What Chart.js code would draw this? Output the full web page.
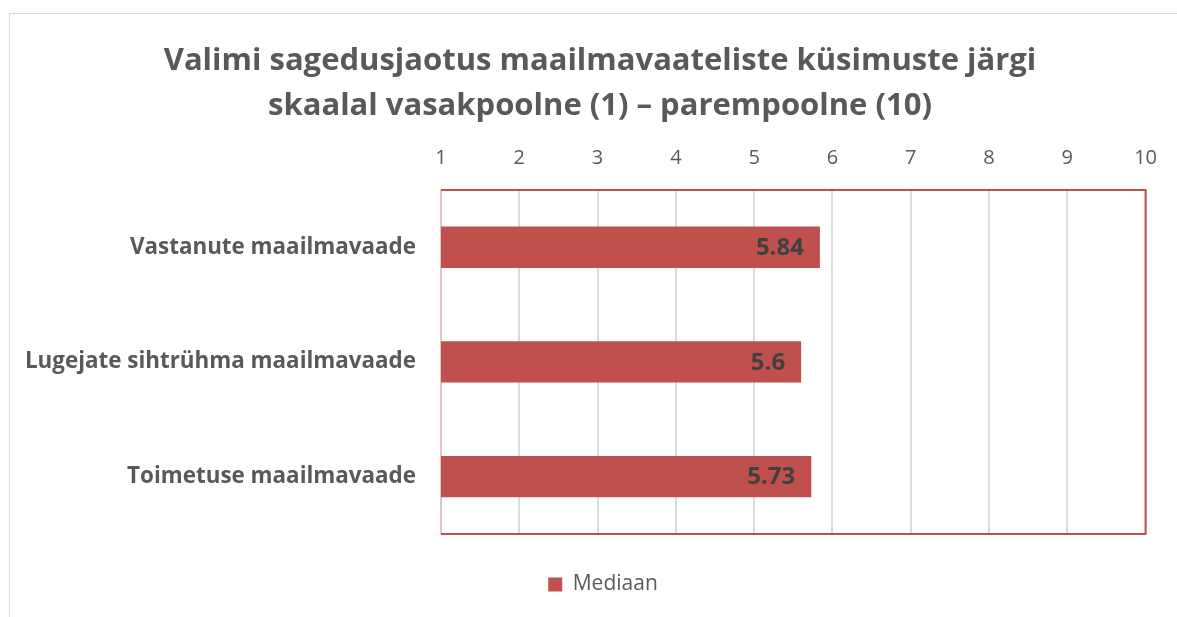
<!DOCTYPE html>
<html><head><meta charset="utf-8">
<script src="https://cdn.jsdelivr.net/npm/chart.js@4.4.0/dist/chart.umd.min.js"></script>
<style>
html,body{margin:0;padding:0;background:#fff;overflow:hidden;}
#frame{position:absolute;left:9px;top:13px;width:1300px;height:700px;border:1px solid #d9d9d9;box-sizing:border-box;}
#wrap{position:absolute;left:0;top:0;width:1177px;height:617px;}
</style></head><body>
<div id="frame"></div>
<div id="wrap"><canvas id="c" width="1177" height="617"></canvas></div>
<script>
const categories = ["Vastanute maailmavaade", "Lugejate sihtrühma maailmavaade", "Toimetuse maailmavaade"];
const medianValues = [5.84, 5.6, 5.73];
const seriesName = "Mediaan";
const titleLines = ["Valimi sagedusjaotus maailmavaateliste küsimuste järgi", "skaalal vasakpoolne (1) – parempoolne (10)"];
const axisMin = 1, axisMax = 10;

const FONT = "'Open Sans', 'Noto Sans', sans-serif";
const GRAY = '#595959';

const valueLabels = {
  id: 'valueLabels',
  afterDatasetsDraw(chart) {
    const ctx = chart.ctx;
    const meta = chart.getDatasetMeta(0);
    ctx.save();
    ctx.font = "bold 24px " + FONT;
    ctx.fillStyle = '#404040';
    ctx.textAlign = 'right';
    ctx.textBaseline = 'middle';
    meta.data.forEach((el, i) => {
      ctx.fillText(String(chart.data.datasets[0].data[i]), el.x - 16, el.y + 1);
    });
    ctx.restore();
  }
};
const plotBorder = {
  id: 'plotBorder',
  afterDatasetsDraw(chart) {
    const a = chart.chartArea, ctx = chart.ctx;
    ctx.save();
    ctx.strokeStyle = '#c0504d';
    ctx.lineWidth = 2;
    ctx.beginPath();
    ctx.moveTo(a.left, a.top); ctx.lineTo(a.right, a.top);
    ctx.lineTo(a.right, a.bottom); ctx.lineTo(a.left, a.bottom);
    ctx.stroke();
    ctx.restore();
  }
};
// Shift title and legend boxes horizontally so they centre like the reference
const boxShift = {
  id: 'boxShift',
  afterLayout(chart) {
    if (chart.titleBlock) { chart.titleBlock.left += 17; chart.titleBlock.right += 17; }
    if (chart.legend) {
      const lg = chart.legend;
      lg.left += 20; lg.right += 20;
    }
  }
};

new Chart(document.getElementById('c'), {
  type: 'bar',
  data: {
    labels: categories,
    datasets: [{
      label: seriesName,
      data: medianValues,
      backgroundColor: '#c0504d',
      borderWidth: 0,
      barPercentage: 0.72,
      categoryPercentage: 0.5
    }]
  },
  options: {
    indexAxis: 'y',
    responsive: false,
    animation: false,
    devicePixelRatio: 1,
    layout: { padding: { left: 20, right: 31, top: 20, bottom: 12 } },
    scales: {
      x: {
        position: 'top',
        min: axisMin, max: axisMax,
        ticks: { stepSize: 1, color: GRAY, font: { family: FONT, size: 20 }, padding: 20 },
        grid: { color: '#dcdcdc', lineWidth: 2, drawTicks: false },
        border: { display: false },
        afterFit(s) { s.height = 52.5; }
      },
      y: {
        ticks: { color: GRAY, font: { family: FONT, size: 22.4, weight: 'bold' }, padding: 25 },
        grid: { display: false, drawTicks: false },
        border: { display: true, color: '#dcc8c8', width: 2 },
        afterFit(s) { s.width = 421; }
      }
    },
    plugins: {
      title: {
        display: true,
        text: titleLines,
        color: GRAY,
        font: { family: FONT, size: 31, weight: 'bold', lineHeight: 1.45 },
        padding: { top: 18.5, bottom: 9 }
      },
      legend: {
        position: 'bottom',
        labels: {
          color: GRAY,
          font: { family: FONT, size: 21 },
          boxWidth: 14, boxHeight: 14, padding: 40
        }
      },
      tooltip: { enabled: false }
    }
  },
  plugins: [valueLabels, plotBorder, boxShift]
});
</script>
</body></html>
